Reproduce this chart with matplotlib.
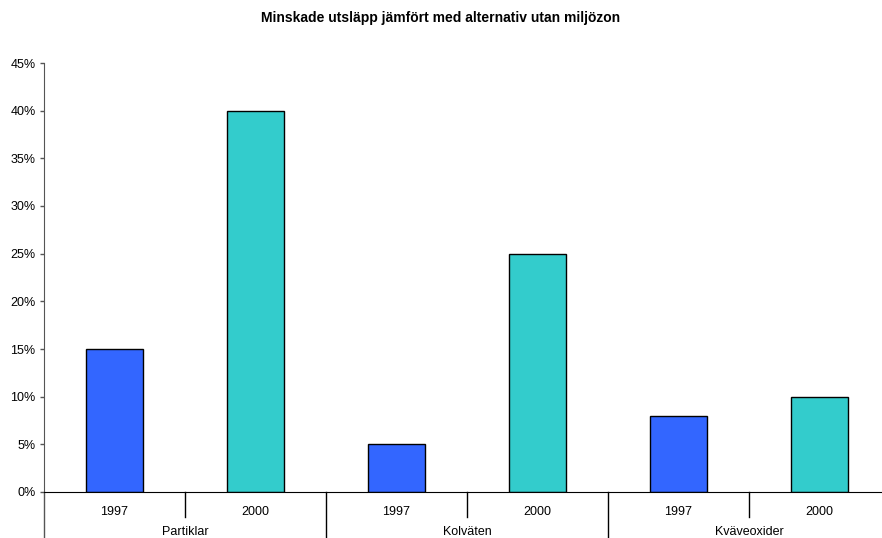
import numpy as np
import matplotlib
matplotlib.use("Agg")
import matplotlib.pyplot as plt
import matplotlib.transforms as mtransforms
from matplotlib.ticker import PercentFormatter

plt.rcParams['font.family'] = ['Liberation Sans', 'DejaVu Sans']

# emission reductions per pollutant and year
pollutants = ['Partiklar', 'Kolväten', 'Kväveoxider']
years = ['1997', '2000']
reduction = [15, 40, 5, 25, 8, 10]
barColors = ['#3366FF', '#33CCCC']

fig = plt.figure(figsize=(8.82, 5.38), dpi=100)
ax = fig.add_axes([44 / 882, 1 - 492 / 538, 846 / 882, 429 / 538])

x = np.arange(len(reduction))
colors = [barColors[i % 2] for i in range(len(reduction))]
ax.bar(x, reduction, width=0.4, color=colors, edgecolor='black', linewidth=1)

ax.set_xlim(-0.5, len(reduction) - 0.5)
ax.set_ylim(0, 45)
ax.set_yticks(np.arange(0, 46, 5))
ax.yaxis.set_major_formatter(PercentFormatter(decimals=0))
ax.tick_params(axis='y', direction='out', length=3, width=1, labelsize=9, pad=3, color='#555555')

ax.set_xticks(x)
ax.set_xticklabels(years * len(pollutants))
ax.tick_params(axis='x', length=0, labelsize=9, pad=10)

for side in ['top', 'right']:
    ax.spines[side].set_visible(False)
ax.spines['left'].set_color('#555555')
ax.spines['bottom'].set_color('black')

# two-level category axis: short lines between years, long lines between groups
trans = mtransforms.blended_transform_factory(ax.transData, ax.transAxes)
ax.plot([-0.5, -0.5], [0, -0.12], transform=trans, color='#555555', lw=1, clip_on=False)
for i in range(1, len(reduction) + 1):
    edge = i - 0.5
    depth = -0.12 if i % 2 == 0 else -0.058
    ax.plot([edge, edge], [0, depth], transform=trans, color='black', lw=1, clip_on=False)

for g, name in enumerate(pollutants):
    ax.text(2 * g + 0.5, -40 / 429, name, transform=trans, ha='center', va='center', fontsize=9)

fig.text(0.5, 1 - 18 / 538, 'Minskade utsläpp jämfört med alternativ utan miljözon',
         ha='center', va='center', fontsize=10, fontweight='bold')

fig.savefig('out.png', dpi=100)
